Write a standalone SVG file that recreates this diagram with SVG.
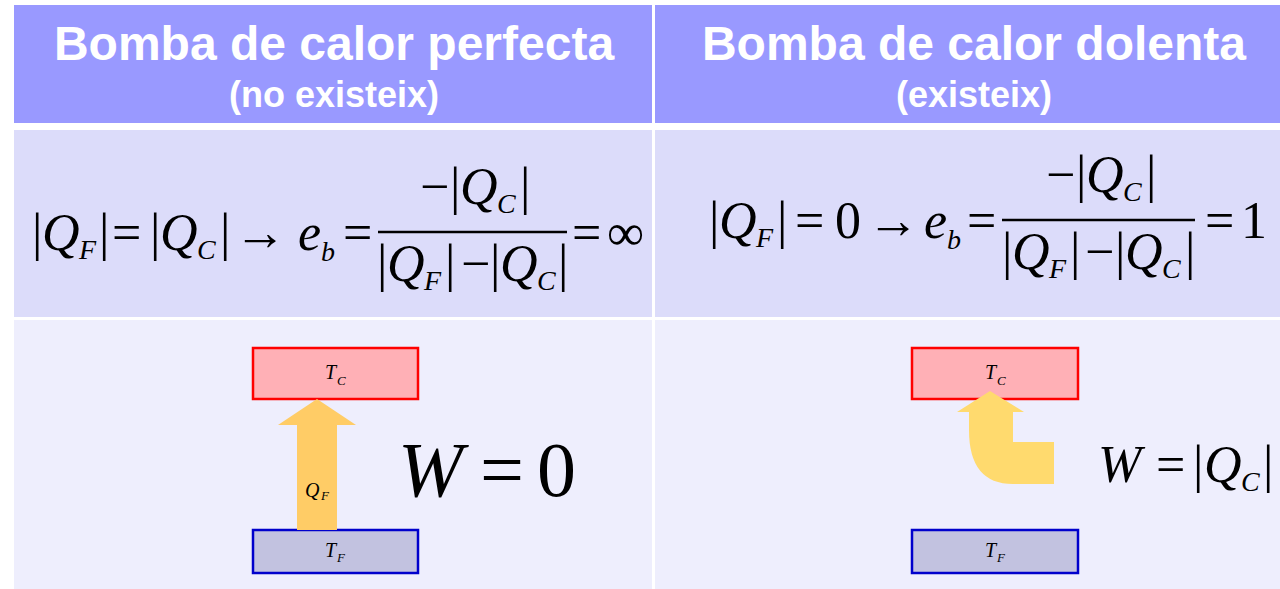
<svg xmlns="http://www.w3.org/2000/svg" width="1280" height="589" viewBox="0 0 1280 589">
<style>
.hd{font-family:"Liberation Sans",Arial,sans-serif;font-weight:bold;fill:#fff;text-anchor:middle}
.m{font-family:"Liberation Serif","Times New Roman",serif;fill:#000}
.i{font-style:italic}
.eq{font-size:52px}
.sb{font-size:28px}
.sm{font-size:20px}
.ss{font-size:13px}
.big{font-size:78px}
.mid{font-size:52px}
.hot{fill:#FFB0B6;stroke:#FF0000;stroke-width:2.5}
.cold{fill:#C2C2E0;stroke:#0000CC;stroke-width:2.5}
</style>
<rect x="0" y="0" width="1280" height="589" fill="#fff"/>
<g id="cells">
<rect x="14" y="5" width="638" height="118" fill="#9999FF"/>
<rect x="655" y="5" width="625" height="118" fill="#9999FF"/>
<rect x="14" y="130" width="638" height="187" fill="#DCDCFA"/>
<rect x="655" y="130" width="625" height="187" fill="#DCDCFA"/>
<rect x="14" y="320" width="638" height="269" fill="#EEEEFD"/>
<rect x="655" y="320" width="625" height="269" fill="#EEEEFD"/>
</g>
<g id="header-left">
<text class="hd" x="334" y="60" font-size="48">Bomba de calor perfecta</text>
<text class="hd" x="334" y="107" font-size="36">(no existeix)</text>
</g>
<g id="header-right">
<text class="hd" x="974" y="60" font-size="48">Bomba de calor dolenta</text>
<text class="hd" x="974" y="107" font-size="36">(existeix)</text>
</g>
<g id="equation-left" class="m">
<text class="eq" x="32" y="250">|</text>
<text class="eq i" x="42" y="250">Q</text>
<text class="sb i" x="79" y="259">F</text>
<text class="eq" x="99" y="250">|</text>
<text class="eq" x="112" y="250">=</text>
<text class="eq" x="150" y="250">|</text>
<text class="eq i" x="160" y="250">Q</text>
<text class="sb i" x="197" y="259">C</text>
<text class="eq" x="220" y="250">|</text>
<text class="eq" x="234" y="250">→</text>
<text class="eq i" x="298" y="250">e</text>
<text class="sb i" x="321" y="261">b</text>
<text class="eq" x="343" y="250">=</text>
<line x1="378" y1="232" x2="567" y2="232" stroke="#000" stroke-width="2.5"/>
<text class="eq" x="420" y="204">−</text>
<text class="eq" x="450" y="204">|</text>
<text class="eq i" x="460" y="204">Q</text>
<text class="sb i" x="497" y="213">C</text>
<text class="eq" x="520" y="204">|</text>
<text class="eq" x="377" y="281">|</text>
<text class="eq i" x="387" y="281">Q</text>
<text class="sb i" x="424" y="290">F</text>
<text class="eq" x="445" y="281">|</text>
<text class="eq" x="461" y="281">−</text>
<text class="eq" x="490" y="281">|</text>
<text class="eq i" x="500" y="281">Q</text>
<text class="sb i" x="537" y="290">C</text>
<text class="eq" x="558" y="281">|</text>
<text class="eq" x="572" y="250">=</text>
<text class="eq" x="607" y="250">∞</text>
</g>
<g id="equation-right" class="m">
<text class="eq" x="709" y="238">|</text>
<text class="eq i" x="719" y="238">Q</text>
<text class="sb i" x="756" y="247">F</text>
<text class="eq" x="777" y="238">|</text>
<text class="eq" x="795" y="238">=</text>
<text class="eq" x="835" y="238">0</text>
<text class="eq" x="867" y="238">→</text>
<text class="eq i" x="924" y="238">e</text>
<text class="sb i" x="947" y="249">b</text>
<text class="eq" x="967" y="238">=</text>
<line x1="1002" y1="220" x2="1195" y2="220" stroke="#000" stroke-width="2.5"/>
<text class="eq" x="1046" y="192">−</text>
<text class="eq" x="1076" y="192">|</text>
<text class="eq i" x="1086" y="192">Q</text>
<text class="sb i" x="1123" y="201">C</text>
<text class="eq" x="1146" y="192">|</text>
<text class="eq" x="1002" y="269">|</text>
<text class="eq i" x="1012" y="269">Q</text>
<text class="sb i" x="1049" y="278">F</text>
<text class="eq" x="1070" y="269">|</text>
<text class="eq" x="1085" y="269">−</text>
<text class="eq" x="1115" y="269">|</text>
<text class="eq i" x="1125" y="269">Q</text>
<text class="sb i" x="1162" y="278">C</text>
<text class="eq" x="1185" y="269">|</text>
<text class="eq" x="1205" y="238">=</text>
<text class="eq" x="1241" y="238">1</text>
</g>
<g id="hot-left">
<rect class="hot" x="253" y="348" width="165" height="51"/>
<text class="m sm i" x="325" y="379">T</text><text class="m ss i" x="337" y="385">C</text>
</g>
<g id="cold-left">
<rect class="cold" x="253" y="530" width="165" height="43"/>
<text class="m sm i" x="325" y="557">T</text><text class="m ss i" x="337" y="562">F</text>
</g>
<g id="hot-right">
<rect class="hot" x="912" y="348" width="166" height="51"/>
<text class="m sm i" x="985" y="379">T</text><text class="m ss i" x="997" y="385">C</text>
</g>
<g id="cold-right">
<rect class="cold" x="912" y="530" width="166" height="43"/>
<text class="m sm i" x="985" y="557">T</text><text class="m ss i" x="997" y="562">F</text>
</g>
<g id="connectors">
<path d="M297 530 L297 425 L278 425 L317 399 L356 425 L337 425 L337 530 Z" fill="#FFCC66"/>
<text class="m sm i" x="305" y="497">Q</text><text class="m ss i" x="321" y="500">F</text>
<path d="M1054 484 L1013 484 Q969 484 969 430 L969 412 L957 412 L990 391 L1024 412 L1013 412 L1013 442 L1054 442 Z" fill="#FFDA6E"/>
</g>
<g id="work-left" class="m">
<text class="big i" x="398" y="496">W</text>
<text class="big" x="480" y="496">=</text>
<text class="big" x="537" y="496">0</text>
</g>
<g id="work-right" class="m">
<text class="mid i" x="1098" y="482">W</text>
<text class="mid" x="1156" y="482">=</text>
<text class="mid" x="1193" y="482">|</text>
<text class="mid i" x="1204" y="482">Q</text>
<text class="sb i" x="1241" y="491">C</text>
<text class="mid" x="1263" y="482">|</text>
</g>
</svg>
